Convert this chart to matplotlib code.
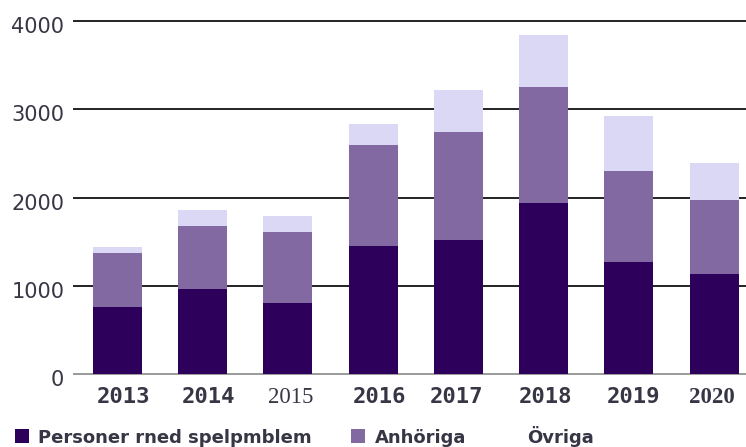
import matplotlib
matplotlib.use("Agg")
import matplotlib.pyplot as plt
import matplotlib.transforms as mtransforms
from matplotlib.patches import Rectangle

# data
years = ["2013", "2014", "2015", "2016", "2017", "2018", "2019", "2020"]
personer = [756, 960, 801, 1455, 1516, 1935, 1273, 1130]
anhoriga = [612, 718, 805, 1141, 1224, 1322, 1032, 843]
ovriga = [72, 181, 182, 238, 480, 590, 616, 416]
y_ticks = [0, 1000, 2000, 3000, 4000]

C_DARK = "#2d005c"
C_MID = "#8269a2"
C_LIGHT = "#dad8f5"
TXT = "#363645"

fig = plt.figure(figsize=(7.46, 4.47), dpi=100)
ax = fig.add_axes([0.0992, 0.1633, 0.9008, 0.7897])

x = list(range(len(years)))
base2 = [a + b for a, b in zip(personer, anhoriga)]

ax.bar(x, personer, width=0.575, color=C_DARK, zorder=3)
ax.bar(x, anhoriga, width=0.575, bottom=personer, color=C_MID, zorder=3)
ax.bar(x, ovriga, width=0.575, bottom=base2, color=C_LIGHT, zorder=3)

# horizontal grid lines
for v in y_ticks:
    ax.axhline(v, color="#9a9a9a" if v == 0 else "#222222",
               linewidth=1.4, zorder=1, clip_on=False)

ax.set_xlim(-0.51, 7.375)
ax.set_ylim(0, 4000)

for s in ax.spines.values():
    s.set_visible(False)

ax.set_yticks(y_ticks)
ax.set_yticklabels([str(v) for v in y_ticks], fontsize=15,
                   family="DejaVu Sans", color=TXT)
ax.tick_params(axis="y", length=0, pad=7)

# the year labels come in a mix of fonts in the original
ax.set_xticks(x)
ax.set_xticklabels(years, fontsize=16, family="DejaVu Sans Mono",
                   fontweight="bold", color=TXT)
ax.tick_params(axis="x", length=0, pad=9)
for lab in ax.get_xticklabels():
    if lab.get_text() == "2015":
        lab.set_family("Liberation Serif")
        lab.set_fontweight("normal")
        lab.set_fontsize(16.5)
    elif lab.get_text() == "2020":
        lab.set_family("Liberation Serif")
        lab.set_fontsize(16.5)

# nudge labels like in the original (pixels)
down = mtransforms.ScaledTranslation(0, -4 / 100, fig.dpi_scale_trans)
for lab in ax.get_yticklabels():
    lab.set_transform(lab.get_transform() + down)
x_nudge = [6, 6, 3, 6, -2, 2, 5, -2]
for lab, dx in zip(ax.get_xticklabels(), x_nudge):
    shift = mtransforms.ScaledTranslation(dx / 100, 0, fig.dpi_scale_trans)
    lab.set_transform(lab.get_transform() + shift)

# legend row at the bottom
W, H = 746, 447
legend_items = [
    (15, 38, C_DARK, "Personer rned spelpmblem"),
    (351, 375, C_MID, "Anhöriga"),
    (None, 527, None, "Övriga"),
]
for sq_x, tx, col, label in legend_items:
    if sq_x is not None:
        fig.patches.append(Rectangle((sq_x / W, 1 - 443 / H), 14 / W, 14 / H,
                                     transform=fig.transFigure,
                                     facecolor=col, edgecolor="none"))
    fig.text(tx / W, 1 - 443 / H, label, fontsize=13, fontweight="bold",
             family="DejaVu Sans", color=TXT, va="baseline", ha="left")

fig.savefig("out.png", dpi=100)
